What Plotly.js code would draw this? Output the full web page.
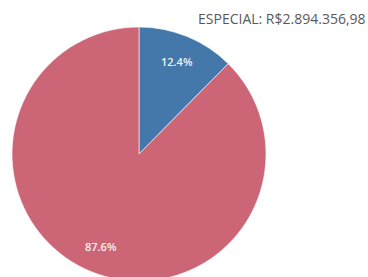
<!DOCTYPE html>
<html><head><meta charset="utf-8">
<script src="https://cdn.plot.ly/plotly-3.0.1.min.js"></script>
<style>html,body{margin:0;padding:0;overflow:hidden;background:#fff}#c{width:368px;height:300px}</style>
</head><body><div id="c"></div>
<script>
const labels = ["ESPECIAL", "OUTROS"];
const values = [12.4, 87.6];
const colors = ["#4477aa", "#cc6677"];
const annotationText = "ESPECIAL: R$2.894.356,98";

// pie domain in paper coords is [0,1]x[0,1]; labels placed at 0.79 r at each slice's mid-angle
const total = values.reduce((a, b) => a + b, 0);
const annos = [];
let cum = 0;
values.forEach((v, i) => {
  const mid = (cum + v / 2) / total * 2 * Math.PI;
  cum += v;
  const r = 0.79 * 0.5;
  annos.push({
    text: (v / total * 100).toFixed(1) + "%", xref: "paper", yref: "paper",
    x: 0.5 + r * Math.sin(mid), y: 0.5 + r * Math.cos(mid),
    xanchor: "center", yanchor: "middle", showarrow: false,
    font: {size: 11, color: "#f2f2f2", family: "Open Sans", weight: 600}
  });
});
annos.push({
  text: annotationText, xref: "paper", yref: "paper",
  x: 1.402, y: 1.035, xanchor: "right", yanchor: "middle", showarrow: false,
  font: {size: 14, color: "#595959", family: "Open Sans"}
});

Plotly.newPlot("c", [{
  type: "pie",
  labels: labels,
  values: values,
  sort: false,
  direction: "clockwise",
  rotation: 0,
  marker: {colors: colors, line: {color: "#ffffff", width: 0.6}},
  textinfo: "none",
  hoverinfo: "none",
  showlegend: false
}], {
  width: 368, height: 300,
  margin: {l: 12, r: 102, t: 27, b: 19},
  paper_bgcolor: "#fff",
  annotations: annos
}, {displayModeBar: false, staticPlot: true});
</script></body></html>
